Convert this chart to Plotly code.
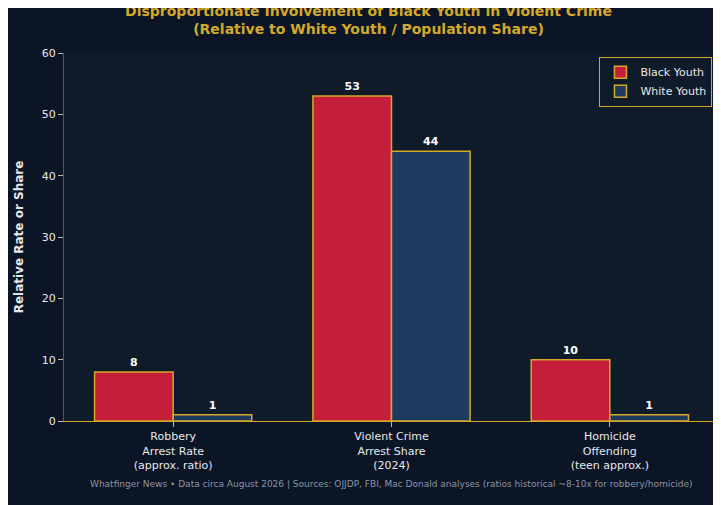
import plotly.graph_objects as go

categories = ["Robbery<br>Arrest Rate<br>(approx. ratio)", "Violent Crime<br>Arrest Share<br>(2024)", "Homicide<br>Offending<br>(teen approx.)"]
black_youth = [8, 53, 10]
white_youth = [1, 44, 1]

gold = "#d4a82a"
fig = go.Figure()
fig.add_trace(go.Bar(x=categories, y=black_youth, name="Black Youth",
                     marker=dict(color="#c41e3a", line=dict(color=gold, width=1.5)),
                     text=[f"<b>{v}</b>" for v in black_youth], textposition="outside",
                     textfont=dict(color="white", size=11, family="DejaVu Sans")))
fig.add_trace(go.Bar(x=categories, y=white_youth, name="White Youth",
                     marker=dict(color="#1f3a5f", line=dict(color=gold, width=1.5)),
                     text=[f"<b>{v}</b>" for v in white_youth], textposition="outside",
                     textfont=dict(color="white", size=11, family="DejaVu Sans")))

fig.update_layout(
    width=721, height=505,
    barmode="group", bargap=0.28, bargroupgap=0,
    paper_bgcolor="#0b1526", plot_bgcolor="#101b29",
    font=dict(family="DejaVu Sans", color="#e8e8e8", size=11),
    title=dict(text="<b>Disproportionate Involvement of Black Youth in Violent Crime<br>(Relative to White Youth / Population Share)</b>",
               x=0.5, y=0.985, xanchor="center", font=dict(color=gold, size=14)),
    margin=dict(l=46, r=10, t=45, b=92),
    yaxis=dict(range=[0, 60], dtick=10, showgrid=False, zeroline=False,
               title=dict(text="<b>Relative Rate or Share</b>", font=dict(size=12)),
               showline=True, linecolor="#555", ticks="outside", tickcolor="#bbb"),
    xaxis=dict(showgrid=False, showline=True, linecolor=gold, ticks="outside", tickcolor="#bbb"),
    legend=dict(x=0.99, y=0.99, xanchor="right", yanchor="top",
                bgcolor="#101b29", bordercolor=gold, borderwidth=1, font=dict(size=11)),
    annotations=[dict(text="Whatfinger News • Data circa August 2026 | Sources: OJJDP, FBI, Mac Donald analyses (ratios historical ~8-10x for robbery/homicide)",
                      xref="paper", yref="paper", x=0.5, y=-0.19, showarrow=False,
                      font=dict(size=9, color="#8a95a5"))],
)

fig.write_html("out.html")
